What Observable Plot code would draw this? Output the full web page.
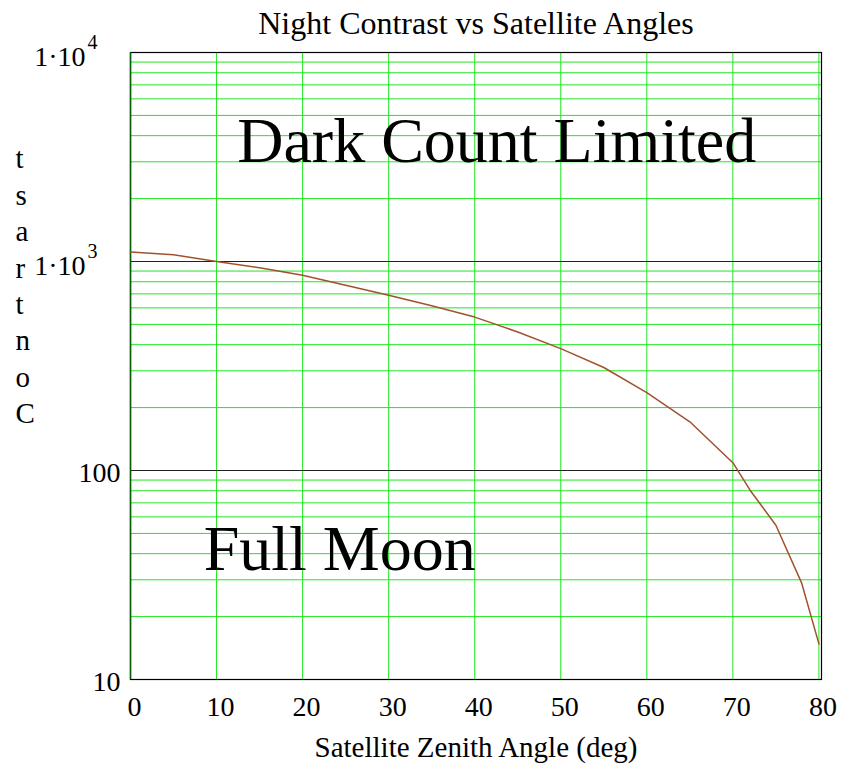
<!DOCTYPE html>
<html><head><meta charset="utf-8">
<script src="https://cdn.jsdelivr.net/npm/d3@7"></script>
<script src="https://cdn.jsdelivr.net/npm/@observablehq/plot@0.6"></script>
<style>
body{margin:0;background:#fff}
svg{display:block}
</style>
</head><body><div id="chart"></div>
<script>
// Data
const angles   = [0, 5, 10, 15, 20, 25, 30, 35, 40, 45, 50, 55, 60, 65, 70, 72, 75, 78, 80];
const contrast = [1110, 1076, 1000, 933, 859, 770, 689, 614, 542, 460, 383, 311, 236, 171, 109, 80.5, 54.7, 28.9, 14.8];
const xTicks = [0, 10, 20, 30, 40, 50, 60, 70, 80];
const yMinor = [20, 30, 40, 50, 60, 70, 80, 90, 200, 300, 400, 500, 600, 700, 800, 900, 2000, 3000, 4000, 5000, 6000, 7000, 8000, 9000];
const yMajor = [100, 1000];
const yPlainTicks = [10, 100];
const yPlainLabels = ["10", "100"];
const yPowTicks = [1000, 10000];
const yPowBase = ["1·10", "1·10"];
const yPowExp = ["3", "4"];
const titleText = "Night Contrast vs Satellite Angles";
const xLabel = "Satellite Zenith Angle (deg)";
const yLabel = "Contrast";
const noteText = ["Dark Count Limited", "Full Moon"];
const noteX = [12.4, 8.5];
const noteY = [3740, 42.1];

const data = angles.map((a, i) => ({a, c: contrast[i]}));
const notes = noteText.map((t, i) => ({t, x: noteX[i], y: noteY[i]}));
const plainT = yPlainTicks.map((v, i) => ({v, l: yPlainLabels[i]}));
const powT = yPowTicks.map((v, i) => ({v, b: yPowBase[i], e: yPowExp[i]}));
const stackedY = yLabel.split("").reverse().join("\n");

const font = "Liberation Serif";
const green = "#22e622";

const chart = Plot.plot({
  width: 841, height: 765,
  marginLeft: 130, marginRight: 20, marginTop: 52, marginBottom: 86,
  x: {domain: [0, 80.3]},
  y: {type: "log", domain: [10, 10000], axis: null},
  style: "font-family: 'Liberation Serif'; background: white; color: black;",
  marks: [
    Plot.ruleY(yMinor, {stroke: green, strokeWidth: 1}),
    Plot.ruleX(xTicks.slice(1), {stroke: green, strokeWidth: 1}),
    Plot.ruleY(yMajor, {stroke: "#222", strokeWidth: 1}),
    Plot.frame({stroke: "#000", strokeWidth: 1.2}),
    Plot.ruleX([0], {stroke: "#0b5d0b", strokeWidth: 1.5}),
    Plot.line(data, {x: "a", y: "c", stroke: "#a0522d", strokeWidth: 1.5}),
    Plot.axisX({ticks: xTicks, tickSize: 0, tickPadding: 17, fontSize: 28, dx: 4, label: null, tickFormat: d => String(d), fontFamily: font}),
    Plot.text(plainT, {y: "v", text: "l", frameAnchor: "left", textAnchor: "end", lineAnchor: "middle", dx: -10, dy: 3, fontSize: 28, fontFamily: font}),
    Plot.text(powT, {y: "v", text: "b", frameAnchor: "left", textAnchor: "end", lineAnchor: "middle", dx: -45, dy: 5, fontSize: 28, fontFamily: font}),
    Plot.text(powT, {y: "v", text: "e", frameAnchor: "left", textAnchor: "start", lineAnchor: "middle", dx: -43, dy: -10, fontSize: 20, fontFamily: font}),
    Plot.text([titleText], {frameAnchor: "top", lineAnchor: "middle", dy: -29, fontSize: 32, fontFamily: font}),
    Plot.text([xLabel], {frameAnchor: "bottom", lineAnchor: "middle", dy: 68, fontSize: 29, fontFamily: font}),
    Plot.text([stackedY], {frameAnchor: "top-left", textAnchor: "start", lineAnchor: "top", dx: -115, dy: 90, fontSize: 29, lineHeight: 1.255, fontFamily: font}),
    Plot.text(notes, {x: "x", y: "y", text: "t", textAnchor: "start", lineAnchor: "middle", fontSize: 64, fontFamily: font})
  ]
});
document.getElementById("chart").appendChild(chart);
</script>
</body></html>
